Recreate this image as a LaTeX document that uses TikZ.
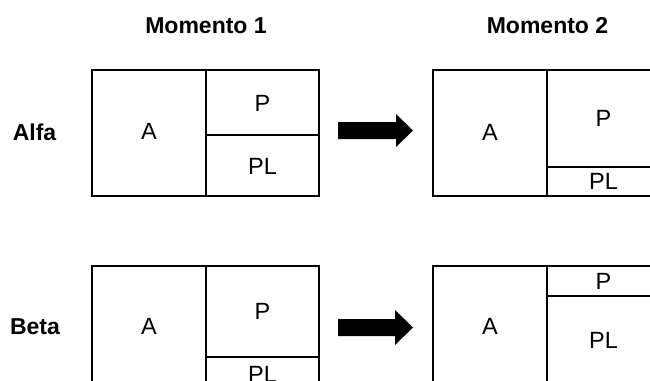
\documentclass[tikz,border=0pt]{standalone}
\usepackage{fontspec}
\setmainfont{Liberation Sans}
\begin{document}
\begin{tikzpicture}[x=1pt,y=-1pt,
  box/.style={draw=black,line width=1.2pt},
  lbl/.style={inner sep=0pt,font=\fontsize{23.5}{27}\selectfont},
  head/.style={inner sep=0pt,anchor=base,font=\fontsize{23}{27}\selectfont\bfseries},
  bigarrow/.style={fill=black,draw=none}]
\useasboundingbox (0,0) rectangle (650,380);
\clip (0,0) rectangle (650,380);
% headings
\node[head] (m1) at (206,33) {Momento 1};
\node[head] (m2) at (547.5,33) {Momento 2};
% row labels
\node[head] (alfa) at (34.5,140) {Alfa};
\node[head] (beta) at (35,334) {Beta};
% Alfa, moment 1
\draw[box] (92,70) rectangle (319,196);
\draw[box] (206,70) -- (206,196);
\draw[box] (206,135) -- (319,135);
\node[lbl] (a1A) at (149,131.5) {A};
\node[lbl] (a1P) at (262.5,103) {P};
\node[lbl] (a1PL) at (262.5,166) {PL};
% Alfa arrow
\fill[bigarrow] (338,122) -- (396,122) -- (396,114) -- (413,130.5) -- (396,147) -- (396,139) -- (338,139) -- cycle;
% Alfa, moment 2
\draw[box] (433,70) rectangle (660,196);
\draw[box] (547,70) -- (547,196);
\draw[box] (547,167) -- (660,167);
\node[lbl] (a2A) at (490,132) {A};
\node[lbl] (a2P) at (603.5,118.5) {P};
\node[lbl] (a2PL) at (603.5,181.5) {PL};
% Beta, moment 1
\draw[box] (92,266) rectangle (319,392);
\draw[box] (206,266) -- (206,392);
\draw[box] (206,357) -- (319,357);
\node[lbl] (b1A) at (149,326) {A};
\node[lbl] (b1P) at (262.5,311.5) {P};
\node[lbl] (b1PL) at (262.5,374.5) {PL};
% Beta arrow
\fill[bigarrow] (338,319) -- (395,319) -- (395,310) -- (413,327.5) -- (395,345) -- (395,336) -- (338,336) -- cycle;
% Beta, moment 2
\draw[box] (433,266) rectangle (660,392);
\draw[box] (547,266) -- (547,392);
\draw[box] (547,296) -- (660,296);
\node[lbl] (b2A) at (490,326) {A};
\node[lbl] (b2P) at (603.5,281) {P};
\node[lbl] (b2PL) at (603.5,340.5) {PL};
\end{tikzpicture}
\end{document}
